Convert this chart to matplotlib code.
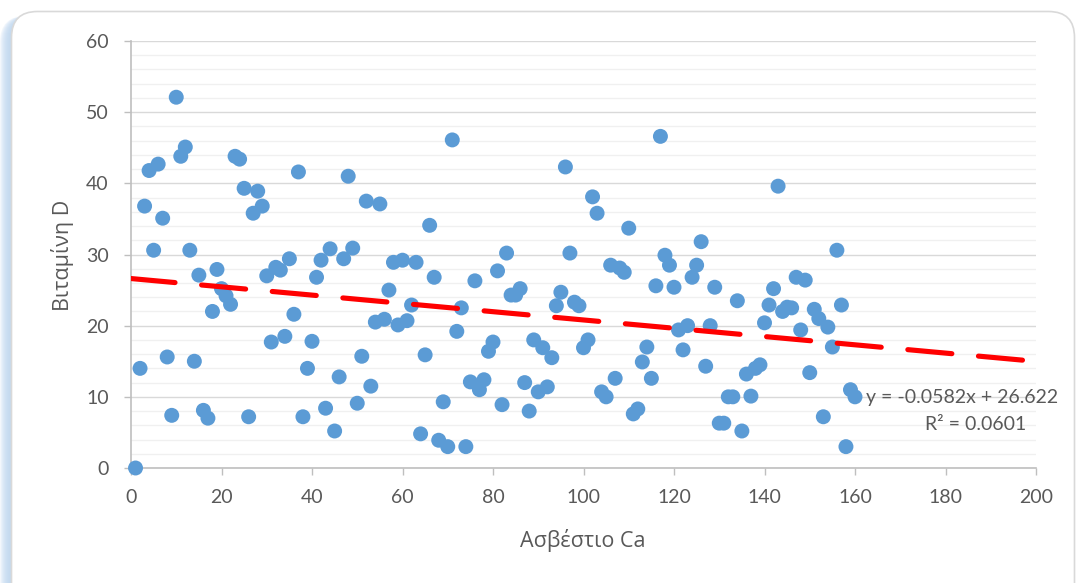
import matplotlib
matplotlib.use("Agg")
import matplotlib.pyplot as plt
from matplotlib.patches import FancyBboxPatch
from matplotlib.ticker import MultipleLocator
import numpy as np

plt.rcParams['font.family'] = ['Lato', 'Open Sans', 'DejaVu Sans']

# Calcium intake (x) and vitamin D level (y)
calcium = list(range(1, 161))
vitamin_d = [
    0, 14, 36.8, 41.8, 30.6, 42.7, 35.1, 15.6, 7.4, 52.1,
    43.8, 45.1, 30.6, 15, 27.1, 8.1, 7, 22, 27.9, 25.2,
    24.2, 23, 43.8, 43.4, 39.3, 7.2, 35.8, 38.9, 36.8, 27,
    17.7, 28.2, 27.8, 18.5, 29.4, 21.6, 41.6, 7.2, 14, 17.8,
    26.8, 29.2, 8.4, 30.8, 5.2, 12.8, 29.4, 41, 30.9, 9.1,
    15.7, 37.5, 11.5, 20.5, 37.1, 20.9, 25, 28.9, 20.1, 29.2,
    20.7, 22.9, 28.9, 4.8, 15.9, 34.1, 26.8, 3.9, 9.3, 3,
    46.1, 19.2, 22.5, 3, 12.1, 26.3, 11, 12.4, 16.4, 17.7,
    27.7, 8.9, 30.2, 24.3, 24.3, 25.2, 12, 8, 18, 10.7,
    16.9, 11.4, 15.5, 22.8, 24.7, 42.3, 30.2, 23.3, 22.8, 16.9,
    18, 38.1, 35.8, 10.7, 10, 28.5, 12.6, 28.1, 27.5, 33.7,
    7.6, 8.3, 14.9, 17, 12.6, 25.6, 46.6, 29.9, 28.5, 25.4,
    19.4, 16.6, 20, 26.8, 28.5, 31.8, 14.3, 20, 25.4, 6.3,
    6.3, 10, 10, 23.5, 5.2, 13.2, 10.1, 14, 14.5, 20.4,
    22.9, 25.2, 39.6, 22, 22.6, 22.5, 26.8, 19.4, 26.4, 13.4,
    22.3, 21, 7.2, 19.8, 17, 30.6, 22.9, 3, 11, 10,
]

# Linear trend reported on the chart
slope = -0.0582
intercept = 26.622
r_squared = 0.0601

TEXT = '#595959'
W, H = 1078, 583
fig = plt.figure(figsize=(W / 100, H / 100), dpi=100)
fig.patch.set_facecolor('white')

# Card background with a soft bluish shadow on the left edge
bg = fig.add_axes([0, 0, 1, 1], zorder=-10)
bg.set_xlim(0, W)
bg.set_ylim(H, 0)
bg.axis('off')
for i in range(11):
    a = 0.10 * (1 - i / 11)
    bg.add_patch(FancyBboxPatch((i, 16), 40, H + 40,
                                boxstyle="round,pad=0,rounding_size=26",
                                facecolor=(0.55, 0.72, 0.9, a), edgecolor='none'))
bg.add_patch(FancyBboxPatch((11.5, 11.5), 1063, H + 40,
                            boxstyle="round,pad=0,rounding_size=26",
                            facecolor='white', edgecolor='#D9D9D9', linewidth=1.2))

ax = fig.add_axes([131 / W, 1 - 468 / H, (1036 - 131) / W, (468 - 41) / H])
ax.set_facecolor('none')
ax.set_xlim(0, 200)
ax.set_ylim(0, 60)

ax.xaxis.set_major_locator(MultipleLocator(20))
ax.yaxis.set_major_locator(MultipleLocator(10))
ax.yaxis.set_minor_locator(MultipleLocator(2))
ax.grid(which='major', axis='y', color='#D9D9D9', linewidth=1.0, zorder=0)
ax.grid(which='minor', axis='y', color='#F0F0F0', linewidth=1.0, zorder=0)
ax.tick_params(axis='y', which='minor', length=0)
ax.tick_params(axis='both', which='major', length=5, width=1, color='#BFBFBF',
               labelsize=14, labelcolor=TEXT)
ax.tick_params(axis='x', which='major', pad=10)
ax.tick_params(axis='y', which='major', pad=11)

for side in ('top', 'right'):
    ax.spines[side].set_visible(False)
for side in ('left', 'bottom'):
    ax.spines[side].set_color('#BFBFBF')
    ax.spines[side].set_linewidth(1.2)

ax.scatter(calcium, vitamin_d, s=116, color='#5B9BD5', edgecolors='none',
           zorder=3, clip_on=False)

xs = np.array([0, 200])
trend, = ax.plot(xs, slope * xs + intercept, color='#FF0000', linewidth=3.7,
                 solid_capstyle='round', dash_capstyle='round', zorder=4)
trend.set_dashes((8.6, 5.2))

fig.text(866 / W, 1 - 397 / H, f'y = {slope}x + {intercept}', ha='left',
         va='center', fontsize=14, color=TEXT)
fig.text(1026 / W, 1 - 425 / H, f'R² = {r_squared}', ha='right',
         va='center', fontsize=14, color=TEXT)

fig.text(62 / W, 1 - 255 / H, 'Βιταμίνη D', rotation=90, ha='center',
         va='center', fontsize=15.5, color=TEXT,
         family=['Open Sans', 'DejaVu Sans'])
fig.text(583 / W, 1 - 540 / H, 'Ασβέστιο Ca', ha='center', va='center',
         fontsize=15.5, color=TEXT, family=['Open Sans', 'DejaVu Sans'])

fig.savefig('out.png', dpi=100, facecolor='white')
